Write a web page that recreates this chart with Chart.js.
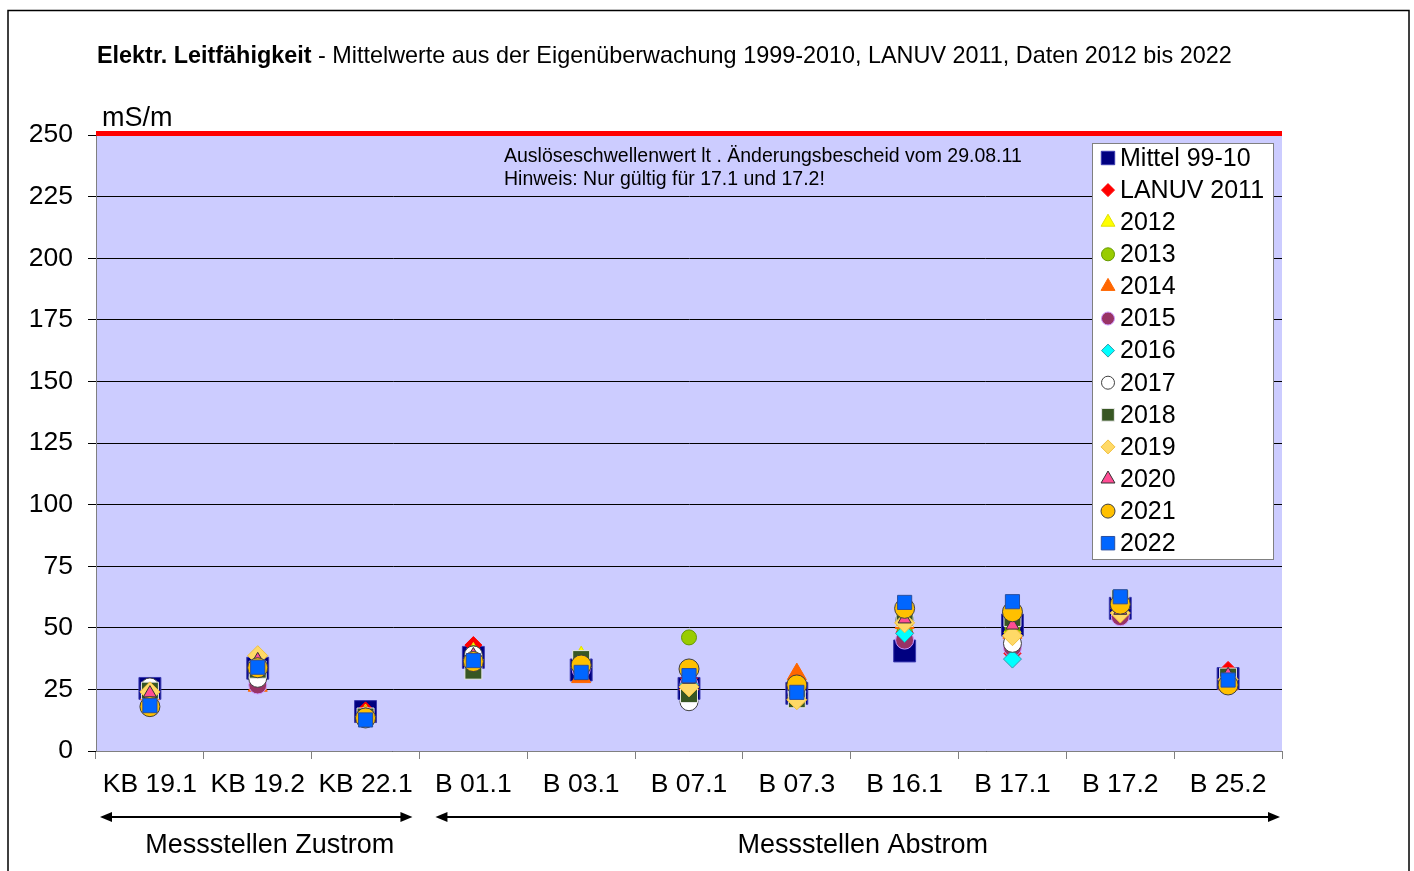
<!DOCTYPE html>
<html lang="de">
<head>
<meta charset="UTF-8">
<title>Elektr. Leitfähigkeit</title>
<script src="https://cdn.jsdelivr.net/npm/chart.js"></script>
<style>
  body { margin: 0; background: #fff; }
</style>
</head>
<body>
<canvas id="chart" width="1414" height="871"></canvas>
<script>
// Messstellen
const categories = ['KB 19.1', 'KB 19.2', 'KB 22.1', 'B 01.1', 'B 03.1', 'B 07.1', 'B 07.3', 'B 16.1', 'B 17.1', 'B 17.2', 'B 25.2'];
const yTicks = [0, 25, 50, 75, 100, 125, 150, 175, 200, 225, 250];
const threshold = 250; // Auslöseschwellenwert

// Werte in mS/m
const mittel9910 = [25.4, 33.6, 16.0, 38.0, 32.9, 25.4, 23.4, 40.6, 51.1, 57.9, 29.4];
const lanuv2011  = [24.0, 30.0, 16.5, 43.0, 33.0, 29.5, 25.0, 48.2, 39.6, 58.0, 32.9];
const y2012      = [24.5, 36.0, 15.0, 40.0, 38.5, 28.0, 24.0, 52.0, 50.0, 58.0, 30.0];
const y2013      = [23.0, 32.0, 14.0, 39.7, 35.0, 46.1, 25.0, 49.0, 50.0, 59.0, 30.0];
const y2014      = [23.0, 26.5, 14.0, 37.0, 30.0, 27.0, 31.2, 52.0, 48.0, 60.0, 27.0];
const y2015      = [24.0, 26.8, 14.0, 38.0, 33.0, 27.0, 24.0, 45.0, 42.0, 54.5, 29.0];
const y2016      = [24.0, 30.0, 14.0, 38.0, 34.0, 27.0, 24.0, 47.7, 37.3, 58.0, 29.0];
const y2017      = [26.0, 29.5, 13.5, 39.0, 36.0, 20.0, 22.0, 53.0, 43.7, 60.0, 29.0];
const y2018      = [24.5, 33.0, 14.0, 32.6, 37.3, 23.1, 21.0, 54.0, 54.0, 62.0, 30.2];
const y2019      = [24.0, 38.7, 14.0, 37.0, 34.0, 26.0, 20.8, 52.0, 46.8, 56.0, 29.0];
const y2020      = [23.5, 37.0, 14.5, 39.0, 30.5, 29.0, 25.0, 53.5, 51.0, 57.0, 31.0];
const y2021      = [18.0, 33.8, 13.4, 36.3, 34.9, 33.3, 26.8, 57.9, 56.5, 59.6, 26.8];
const y2022      = [18.4, 34.0, 12.6, 36.7, 31.9, 30.6, 23.8, 60.3, 60.6, 62.6, 28.8];

const FONT = "'Liberation Sans', Arial, sans-serif";
Chart.defaults.font.family = FONT;
Chart.defaults.color = '#000';

function series(label, data, style, bg, border, radius, legendRadius) {
  return {
    label, data,
    showLine: false,
    pointStyle: style,
    pointRadius: radius,
    pointHoverRadius: radius,
    pointBackgroundColor: bg,
    pointBorderColor: border,
    pointBorderWidth: 1,
    legendRadius: legendRadius
  };
}

const datasets = [
  series('Mittel 99-10', mittel9910, 'rect', '#000080', '#3a3ab0', 15.5, 9.5),
  series('LANUV 2011', lanuv2011, 'rectRot', '#ff0000', '#ff0000', 8.5, 6.5),
  series('2012', y2012, 'triangle', '#ffff00', '#e0e000', 10, 8),
  series('2013', y2013, 'circle', '#99cc00', '#669900', 7.5, 6.5),
  series('2014', y2014, 'triangle', '#ff6600', '#ff6600', 11, 8),
  series('2015', y2015, 'circle', '#993366', '#cc99ff', 9, 6.5),
  series('2016', y2016, 'rectRot', '#00ffff', '#3399aa', 9, 6.5),
  series('2017', y2017, 'circle', '#ffffff', '#404040', 9, 6.5),
  series('2018', y2018, 'rect', '#385723', '#e8e8e8', 12, 9),
  series('2019', y2019, 'rectRot', '#ffd966', '#f0c040', 10, 7),
  series('2020', y2020, 'triangle', '#ff4d94', '#333333', 7.5, 8),
  series('2021', y2021, 'circle', '#ffc000', '#404040', 10, 7),
  series('2022', y2022, 'rect', '#0066ff', '#2a4fa0', 10, 9.5)
];
// spätere Jahre oben zeichnen
datasets.forEach((d, i) => { d.order = datasets.length - 1 - i; });

const decorPlugin = {
  id: 'decor',
  beforeDraw(chart) {
    const { ctx, chartArea: a } = chart;
    ctx.save();
    ctx.fillStyle = '#ffffff';
    ctx.fillRect(0, 0, chart.width, chart.height);
    ctx.fillStyle = '#ccccff';
    ctx.fillRect(a.left, a.top, a.right - a.left, a.bottom - a.top);
    // Rahmen
    ctx.strokeStyle = '#000';
    ctx.lineWidth = 1.5;
    ctx.strokeRect(8, 10.5, 1401, 900);
    // Titel
    ctx.fillStyle = '#000';
    ctx.textBaseline = 'alphabetic';
    ctx.textAlign = 'left';
    ctx.font = 'bold 23.4px ' + FONT;
    const bold = 'Elektr. Leitfähigkeit';
    ctx.fillText(bold, 97, 63);
    const w = ctx.measureText(bold).width;
    ctx.font = '23.4px ' + FONT;
    ctx.fillText(' - Mittelwerte aus der Eigenüberwachung 1999-2010, LANUV 2011, Daten 2012 bis 2022', 97 + w, 63);
    // Einheit
    ctx.font = '27px ' + FONT;
    ctx.fillText('mS/m', 102, 126);
    ctx.restore();
  },
  beforeDatasetsDraw(chart) {
    const { ctx, chartArea: a, scales } = chart;
    const y = scales.y.getPixelForValue(threshold);
    ctx.save();
    ctx.strokeStyle = '#ff0000';
    ctx.lineWidth = 5;
    ctx.beginPath();
    ctx.moveTo(a.left, y - 1.5);
    ctx.lineTo(a.right, y - 1.5);
    ctx.stroke();
    ctx.fillStyle = '#000';
    ctx.font = '19.5px ' + FONT;
    ctx.textBaseline = 'middle';
    ctx.fillText('Auslöseschwellenwert lt . Änderungsbescheid vom 29.08.11', 504, 157);
    ctx.fillText('Hinweis: Nur gültig für 17.1 und 17.2!', 504, 180);
    ctx.restore();
  },
  afterDraw(chart) {
    const { ctx, scales } = chart;
    const x = scales.x;
    const half = (x.getPixelForValue(1) - x.getPixelForValue(0)) / 2;
    const groups = [
      { from: 0, to: 2, text: 'Messstellen Zustrom', padL: 4, padR: 7 },
      { from: 3, to: 10, text: 'Messstellen Abstrom', padL: 16, padR: 2 }
    ];
    ctx.save();
    ctx.strokeStyle = '#000';
    ctx.fillStyle = '#000';
    ctx.lineWidth = 2;
    const ay = 817;
    groups.forEach(g => {
      const left = x.getPixelForValue(g.from) - half;
      const right = x.getPixelForValue(g.to) + half;
      const x0 = left + g.padL;
      const x1 = right - g.padR;
      ctx.beginPath();
      ctx.moveTo(x0 + 4, ay);
      ctx.lineTo(x1 - 4, ay);
      ctx.stroke();
      [[x0, 1], [x1, -1]].forEach(([px, dir]) => {
        ctx.beginPath();
        ctx.moveTo(px, ay);
        ctx.lineTo(px + dir * 12, ay - 5);
        ctx.lineTo(px + dir * 12, ay + 5);
        ctx.closePath();
        ctx.fill();
      });
      ctx.font = '27px ' + FONT;
      ctx.textAlign = 'center';
      ctx.textBaseline = 'middle';
      ctx.fillText(g.text, (left + right) / 2 + 12, 846);
    });

    // Legende
    const lx = 1092, ly = 143, lw = 181, lh = 416;
    ctx.fillStyle = '#ffffff';
    ctx.fillRect(lx, ly, lw, lh);
    ctx.strokeStyle = '#808080';
    ctx.lineWidth = 1;
    ctx.strokeRect(lx + 0.5, ly + 0.5, lw, lh);
    chart.data.datasets.forEach((d, i) => {
      const cy = 158 + i * 32.1;
      ctx.fillStyle = d.pointBackgroundColor;
      ctx.strokeStyle = d.pointBorderColor;
      ctx.lineWidth = 1;
      Chart.helpers.drawPoint(ctx, { pointStyle: d.pointStyle, radius: d.legendRadius, rotation: 0, borderWidth: 1 }, 1108, cy);
      ctx.fillStyle = '#000';
      ctx.font = '25px ' + FONT;
      ctx.textAlign = 'left';
      ctx.textBaseline = 'middle';
      ctx.fillText(d.label, 1120, cy + 1);
    });
    ctx.restore();
  }
};

new Chart(document.getElementById('chart'), {
  type: 'line',
  data: { labels: categories, datasets },
  plugins: [decorPlugin],
  options: {
    responsive: false,
    animation: false,
    layout: { padding: { left: 0, top: 135, right: 132, bottom: 0 } },
    plugins: { legend: { display: false }, tooltip: { enabled: false } },
    scales: {
      x: {
        offset: true,
        afterFit(scale) { scale.height = 120; },
        grid: { offset: true, drawOnChartArea: false, tickLength: 8, color: '#808080' },
        border: { color: '#808080', width: 1 },
        ticks: { font: { size: 26.5 }, color: '#000', padding: 10, maxRotation: 0, autoSkip: false }
      },
      y: {
        min: 0, max: 250,
        afterFit(scale) { scale.width = 96; },
        afterBuildTicks(scale) { scale.ticks = yTicks.map(v => ({ value: v })); },
        grid: { color: '#000000', lineWidth: 1, tickLength: 8 },
        border: { color: '#808080', width: 1 },
        ticks: { font: { size: 26.5 }, color: '#000', padding: 15 }
      }
    }
  }
});
</script>
</body>
</html>
